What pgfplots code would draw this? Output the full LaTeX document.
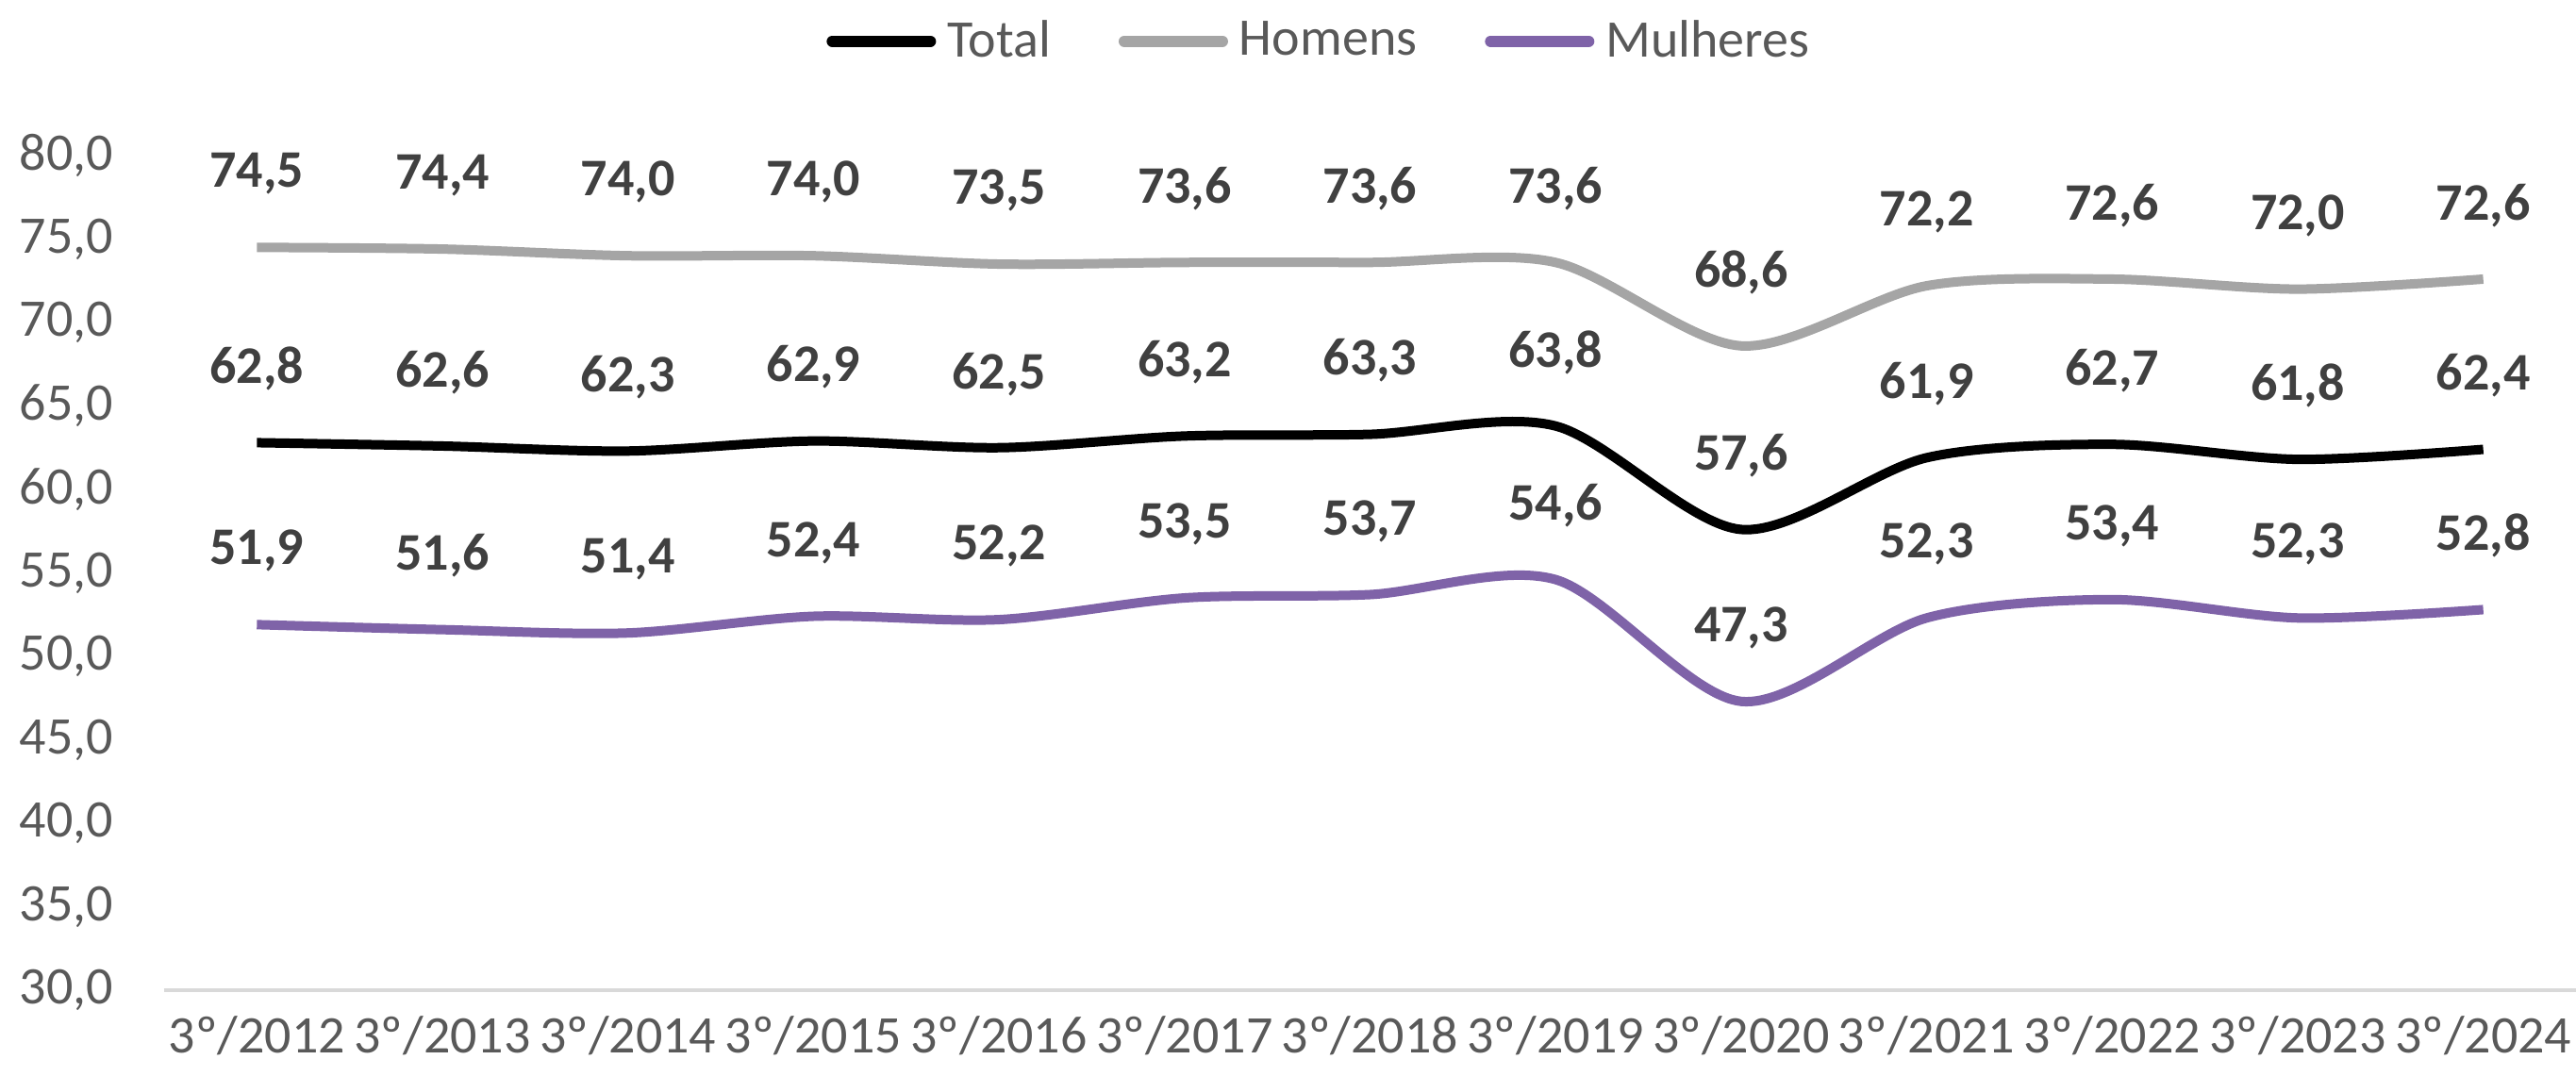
\documentclass[border=0pt]{standalone}
\usepackage{pgfplots}
\pgfplotsset{compat=1.18}
\usepackage{fontspec}
\setmainfont{Carlito}
\definecolor{cTotal}{HTML}{000000}
\definecolor{cHom}{HTML}{A5A5A5}
\definecolor{cMul}{HTML}{7F63A8}
\definecolor{tickc}{HTML}{595959}
\definecolor{labc}{HTML}{404040}
\definecolor{axc}{HTML}{D9D9D9}
\begin{document}
\begin{tikzpicture}
\path[use as bounding box] (-43.5pt,-22.75pt) rectangle (639.25pt,262.5pt);
\begin{axis}[
  at={(0,0)}, anchor=south west, scale only axis,
  width=639.25pt, height=221.25pt,
  xmin=-0.5, xmax=12.5, ymin=30, ymax=80,
  enlargelimits=false,
  xtick={0,...,12},
  xticklabels={3º/2012,3º/2013,3º/2014,3º/2015,3º/2016,3º/2017,3º/2018,3º/2019,3º/2020,3º/2021,3º/2022,3º/2023,3º/2024},
  ytick={30,35,...,80},
  axis x line*=bottom, axis y line*=left,
  x axis line style={draw=axc, line width=1.2pt, -},
  y axis line style={draw=none},
  major tick length=0pt,
  /pgf/number format/assume math mode=true,
  /pgf/number format/.cd, use comma, fixed, fixed zerofill, precision=1, /pgfplots/.cd,
  ticklabel style={font=\fontsize{14}{16}\selectfont, text=tickc},
  yticklabel style={xshift=-10pt},
  xticklabel style={yshift=-3.5pt},
  nodes near coords,
  every node near coord/.append style={font=\fontsize{14}{16}\selectfont\bfseries, text=labc, anchor=center, yshift=19.5pt},
  legend style={at={(0.48,1.137)}, anchor=center, draw=none, fill=none, legend columns=3,
    font=\fontsize{14}{16}\selectfont, text=tickc,
    /tikz/every even column/.append style={column sep=16pt},
    /tikz/every odd column/.append style={column sep=1pt}},
  legend image code/.code={\draw[#1, line width=3pt, line cap=round] (0pt,0pt) -- (26pt,0pt);},
]
\addplot[cTotal, line width=2.5pt, smooth, tension=0.5] coordinates {
 (0,62.8) (1,62.6) (2,62.3) (3,62.9) (4,62.5) (5,63.2) (6,63.3) (7,63.8) (8,57.6) (9,61.9) (10,62.7) (11,61.8) (12,62.4)};
\addlegendentry{Total}
\addplot[cHom, line width=2.5pt, smooth, tension=0.5] coordinates {
 (0,74.5) (1,74.4) (2,74.0) (3,74.0) (4,73.5) (5,73.6) (6,73.6) (7,73.6) (8,68.6) (9,72.2) (10,72.6) (11,72.0) (12,72.6)};
\addlegendentry{Homens}
\addplot[cMul, line width=2.5pt, smooth, tension=0.5] coordinates {
 (0,51.9) (1,51.6) (2,51.4) (3,52.4) (4,52.2) (5,53.5) (6,53.7) (7,54.6) (8,47.3) (9,52.3) (10,53.4) (11,52.3) (12,52.8)};
\addlegendentry{Mulheres}
\end{axis}
\end{tikzpicture}
\end{document}
